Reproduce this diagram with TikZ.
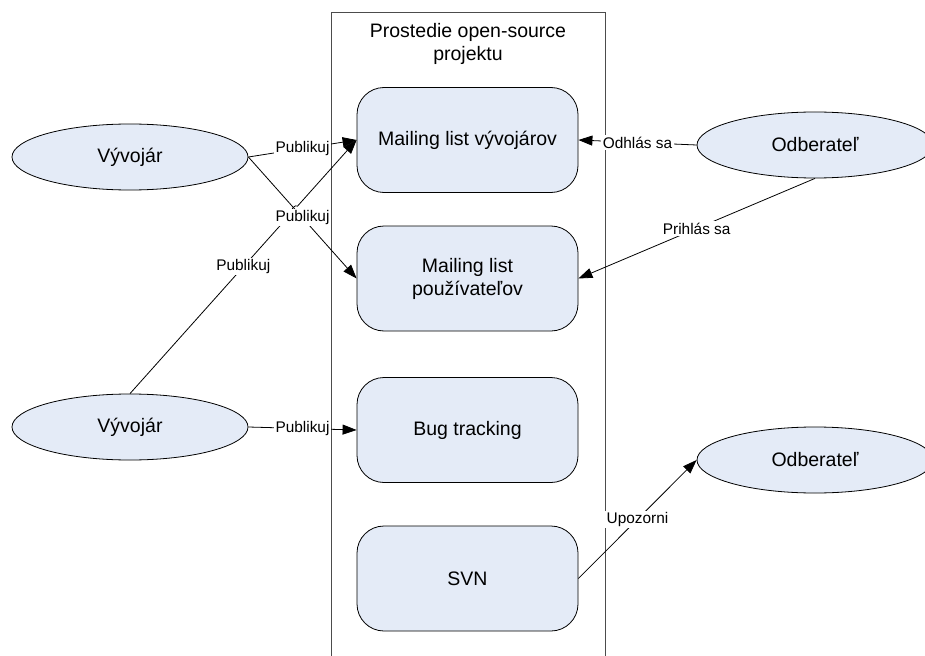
\documentclass[tikz,border=0pt]{standalone}
\usepackage{fontspec}
\setmainfont{Liberation Sans}
\usetikzlibrary{arrows.meta,shapes.geometric,intersections,calc}
\definecolor{fillblue}{RGB}{228,235,247}
\newcommand\dgmainfont{\fontsize{19.5}{23}\selectfont}
\newcommand\dglblfont{\fontsize{15.4}{18}\selectfont}
\begin{document}
\begin{tikzpicture}[x=1pt,y=-1pt,
  ell/.style={draw=black, fill=fillblue, ellipse, minimum width=236pt, minimum height=66pt, inner sep=0pt, line width=0.8pt, font=\dgmainfont},
  box/.style={draw=black, fill=fillblue, rectangle, rounded corners=27pt, minimum width=221pt, minimum height=105pt, line width=0.8pt, align=center, font=\dgmainfont},
  conn/.style={line width=0.8pt, -{Triangle[length=14pt,width=10pt]}},
  lbl/.style={fill=white, inner sep=1.5pt, font=\dglblfont, text=black},
  container/.style={draw=black!70, line width=1pt},
]
\useasboundingbox (0,0) rectangle (925,655);
\clip (0,0) rectangle (925,655);

% container
\draw[container] (331,660) -- (331,13) -- (605,13) -- (605,660);
\node[align=center, font=\dgmainfont] (title) at (468,44) {Prostedie open-source\\projektu};

% boxes
\node[box] (b1) at (467.5,140) {Mailing list vývojárov};
\node[box] (b2) at (467.5,278.5) {Mailing list\\používateľov};
\node[box] (b3) at (467.5,430) {Bug tracking};
\node[box] (b4) at (467.5,578.5) {SVN};

% ellipses
\node[ell] (v1) at (130,157) {Vývojár};
\node[ell] (v2) at (130,427) {Vývojár};
\node[ell] (o1) at (815,145) {Odberateľ};
\node[ell] (o2) at (815,460) {Odberateľ};

% crossing lines
\path[name path=l1] (v1.east) -- (b2.west);
\path[name path=l2] (v2.north) -- (b1.west);
\path[name intersections={of=l1 and l2, by=X}];

\draw[conn] (v2.north) -- ($(X)!4pt!(v2.north)$) to[bend left=90] ($(X)!4pt!(b1.west)$) -- (b1.west);
\path (v2.north) -- node[lbl]{Publikuj} (b1.west);

\draw[conn] (v1.east) -- node[lbl]{Publikuj} (b2.west);
\draw[conn] (v1.east) -- node[lbl]{Publikuj} (b1.west);
\draw[conn] (v2.east) -- node[lbl]{Publikuj} (b3.west);

\draw[conn] (o1.west) -- node[lbl]{Odhlás sa} (b1.east);
\draw[conn] (o1.south) -- node[lbl]{Prihlás sa} (b2.east);
\draw[conn] (b4.east) -- node[lbl]{Upozorni} (o2.west);
\end{tikzpicture}
\end{document}
